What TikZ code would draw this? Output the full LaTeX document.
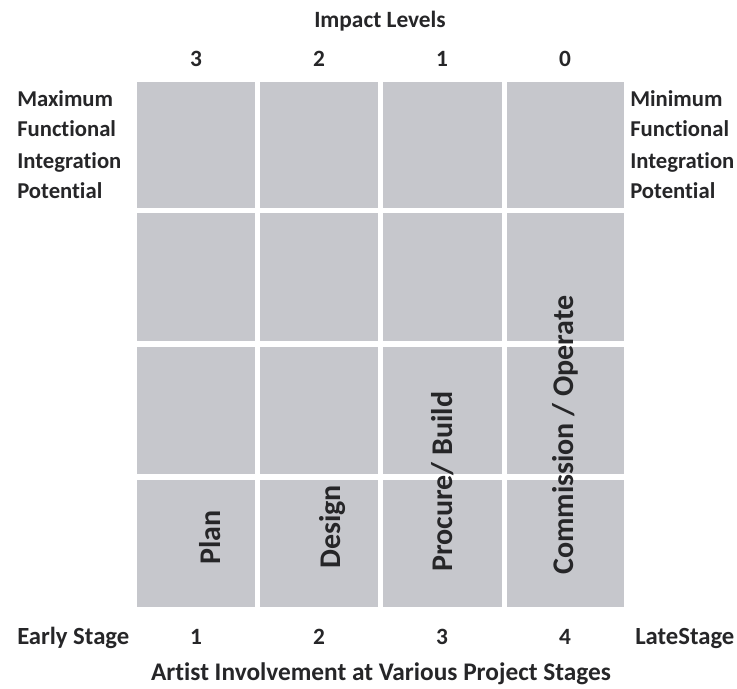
\documentclass[tikz,border=0pt]{standalone}
\usepackage{fontspec}
\setmainfont{Carlito}[Ligatures=NoCommon]
\usepackage{tikz}

\definecolor{cellgray}{RGB}{198,199,204}
\definecolor{labelink}{RGB}{38,38,40}

\tikzset{
  cell/.style={draw opacity=0, fill=cellgray, fill opacity=1},
  axislabel/.style={inner sep=0.75pt, text=labelink, font=\fontsize{17.5}{21}\selectfont\bfseries},
  sidelabel/.style={axislabel, anchor=base west, font=\fontsize{17}{21}\selectfont\bfseries},
  stagelabel/.style={inner sep=0.75pt, text=labelink, rotate=90, anchor=base west, font=\fontsize{22.5}{26}\selectfont\bfseries}
}

\begin{document}
\begin{tikzpicture}[x=0.75pt,y=0.75pt,yscale=-1,xscale=1]
    %set diagram left start at 0, and has height of 688
    \useasboundingbox [fill=white] (0,0) rectangle (737,688);

    %Shape: Rectangle row 1
    \draw  [cell] (137,82) -- (255,82) -- (255,208) -- (137,208) -- cycle ;
    \draw  [cell] (260,82) -- (378,82) -- (378,208) -- (260,208) -- cycle ;
    \draw  [cell] (383,82) -- (502,82) -- (502,208) -- (383,208) -- cycle ;
    \draw  [cell] (507,82) -- (624,82) -- (624,208) -- (507,208) -- cycle ;
    %Shape: Rectangle row 2
    \draw  [cell] (137,213) -- (255,213) -- (255,341) -- (137,341) -- cycle ;
    \draw  [cell] (260,213) -- (378,213) -- (378,341) -- (260,341) -- cycle ;
    \draw  [cell] (383,213) -- (502,213) -- (502,341) -- (383,341) -- cycle ;
    \draw  [cell] (507,213) -- (624,213) -- (624,341) -- (507,341) -- cycle ;
    %Shape: Rectangle row 3
    \draw  [cell] (137,347) -- (255,347) -- (255,474) -- (137,474) -- cycle ;
    \draw  [cell] (260,347) -- (378,347) -- (378,474) -- (260,474) -- cycle ;
    \draw  [cell] (383,347) -- (502,347) -- (502,474) -- (383,474) -- cycle ;
    \draw  [cell] (507,347) -- (624,347) -- (624,474) -- (507,474) -- cycle ;
    %Shape: Rectangle row 4
    \draw  [cell] (137,480) -- (255,480) -- (255,607) -- (137,607) -- cycle ;
    \draw  [cell] (260,480) -- (378,480) -- (378,607) -- (260,607) -- cycle ;
    \draw  [cell] (383,480) -- (502,480) -- (502,607) -- (383,607) -- cycle ;
    \draw  [cell] (507,480) -- (624,480) -- (624,607) -- (507,607) -- cycle ;

    % Text Node
    \draw (380,28) node [axislabel, anchor=base] (impact) {Impact Levels};
    % Text Node
    \draw (196,67) node [axislabel, anchor=base] (lvlthree) {3};
    % Text Node
    \draw (319,67) node [axislabel, anchor=base] (lvltwo) {2};
    % Text Node
    \draw (442,67) node [axislabel, anchor=base] (lvlone) {1};
    % Text Node
    \draw (565,67) node [axislabel, anchor=base] (lvlzero) {0};

    % Text Node
    \draw (16,107) node [sidelabel] (maxa) {Maximum};
    % Text Node
    \draw (16,137) node [sidelabel] (maxb) {Functional};
    % Text Node
    \draw (16,168) node [sidelabel] (maxc) {Integration};
    % Text Node
    \draw (16,198) node [sidelabel] (maxd) {Potential};

    % Text Node
    \draw (629,107) node [sidelabel] (mina) {Minimum};
    % Text Node
    \draw (629,137) node [sidelabel] (minb) {Functional};
    % Text Node
    \draw (629,168) node [sidelabel] (minc) {Integration};
    % Text Node
    \draw (629,198) node [sidelabel] (mind) {Potential};

    % Text Node
    \draw (220,566) node [stagelabel] (plan) {Plan};
    % Text Node
    \draw (340,570) node [stagelabel] (design) {Design};
    % Text Node
    \draw (452,573) node [stagelabel] (procure) {Procure/ Build};
    % Text Node
    \draw (573,576) node [stagelabel] (commission) {Commission / Operate};

    % Text Node
    \draw (16,644) node [axislabel, anchor=base west, font=\fontsize{18.5}{22}\selectfont\bfseries] (early) {Early Stage};
    % Text Node
    \draw (196,644) node [axislabel, anchor=base] (stone) {1};
    % Text Node
    \draw (319,644) node [axislabel, anchor=base] (sttwo) {2};
    % Text Node
    \draw (442,644) node [axislabel, anchor=base] (stthree) {3};
    % Text Node
    \draw (565,644) node [axislabel, anchor=base] (stfour) {4};
    % Text Node
    \draw (634,644) node [axislabel, anchor=base west, font=\fontsize{18.5}{22}\selectfont\bfseries] (late) {LateStage};
    % Text Node
    \draw (381,680) node [axislabel, anchor=base, font=\fontsize{19}{23}\selectfont\bfseries] (artist) {Artist Involvement at Various Project Stages};
\end{tikzpicture}
\end{document}
